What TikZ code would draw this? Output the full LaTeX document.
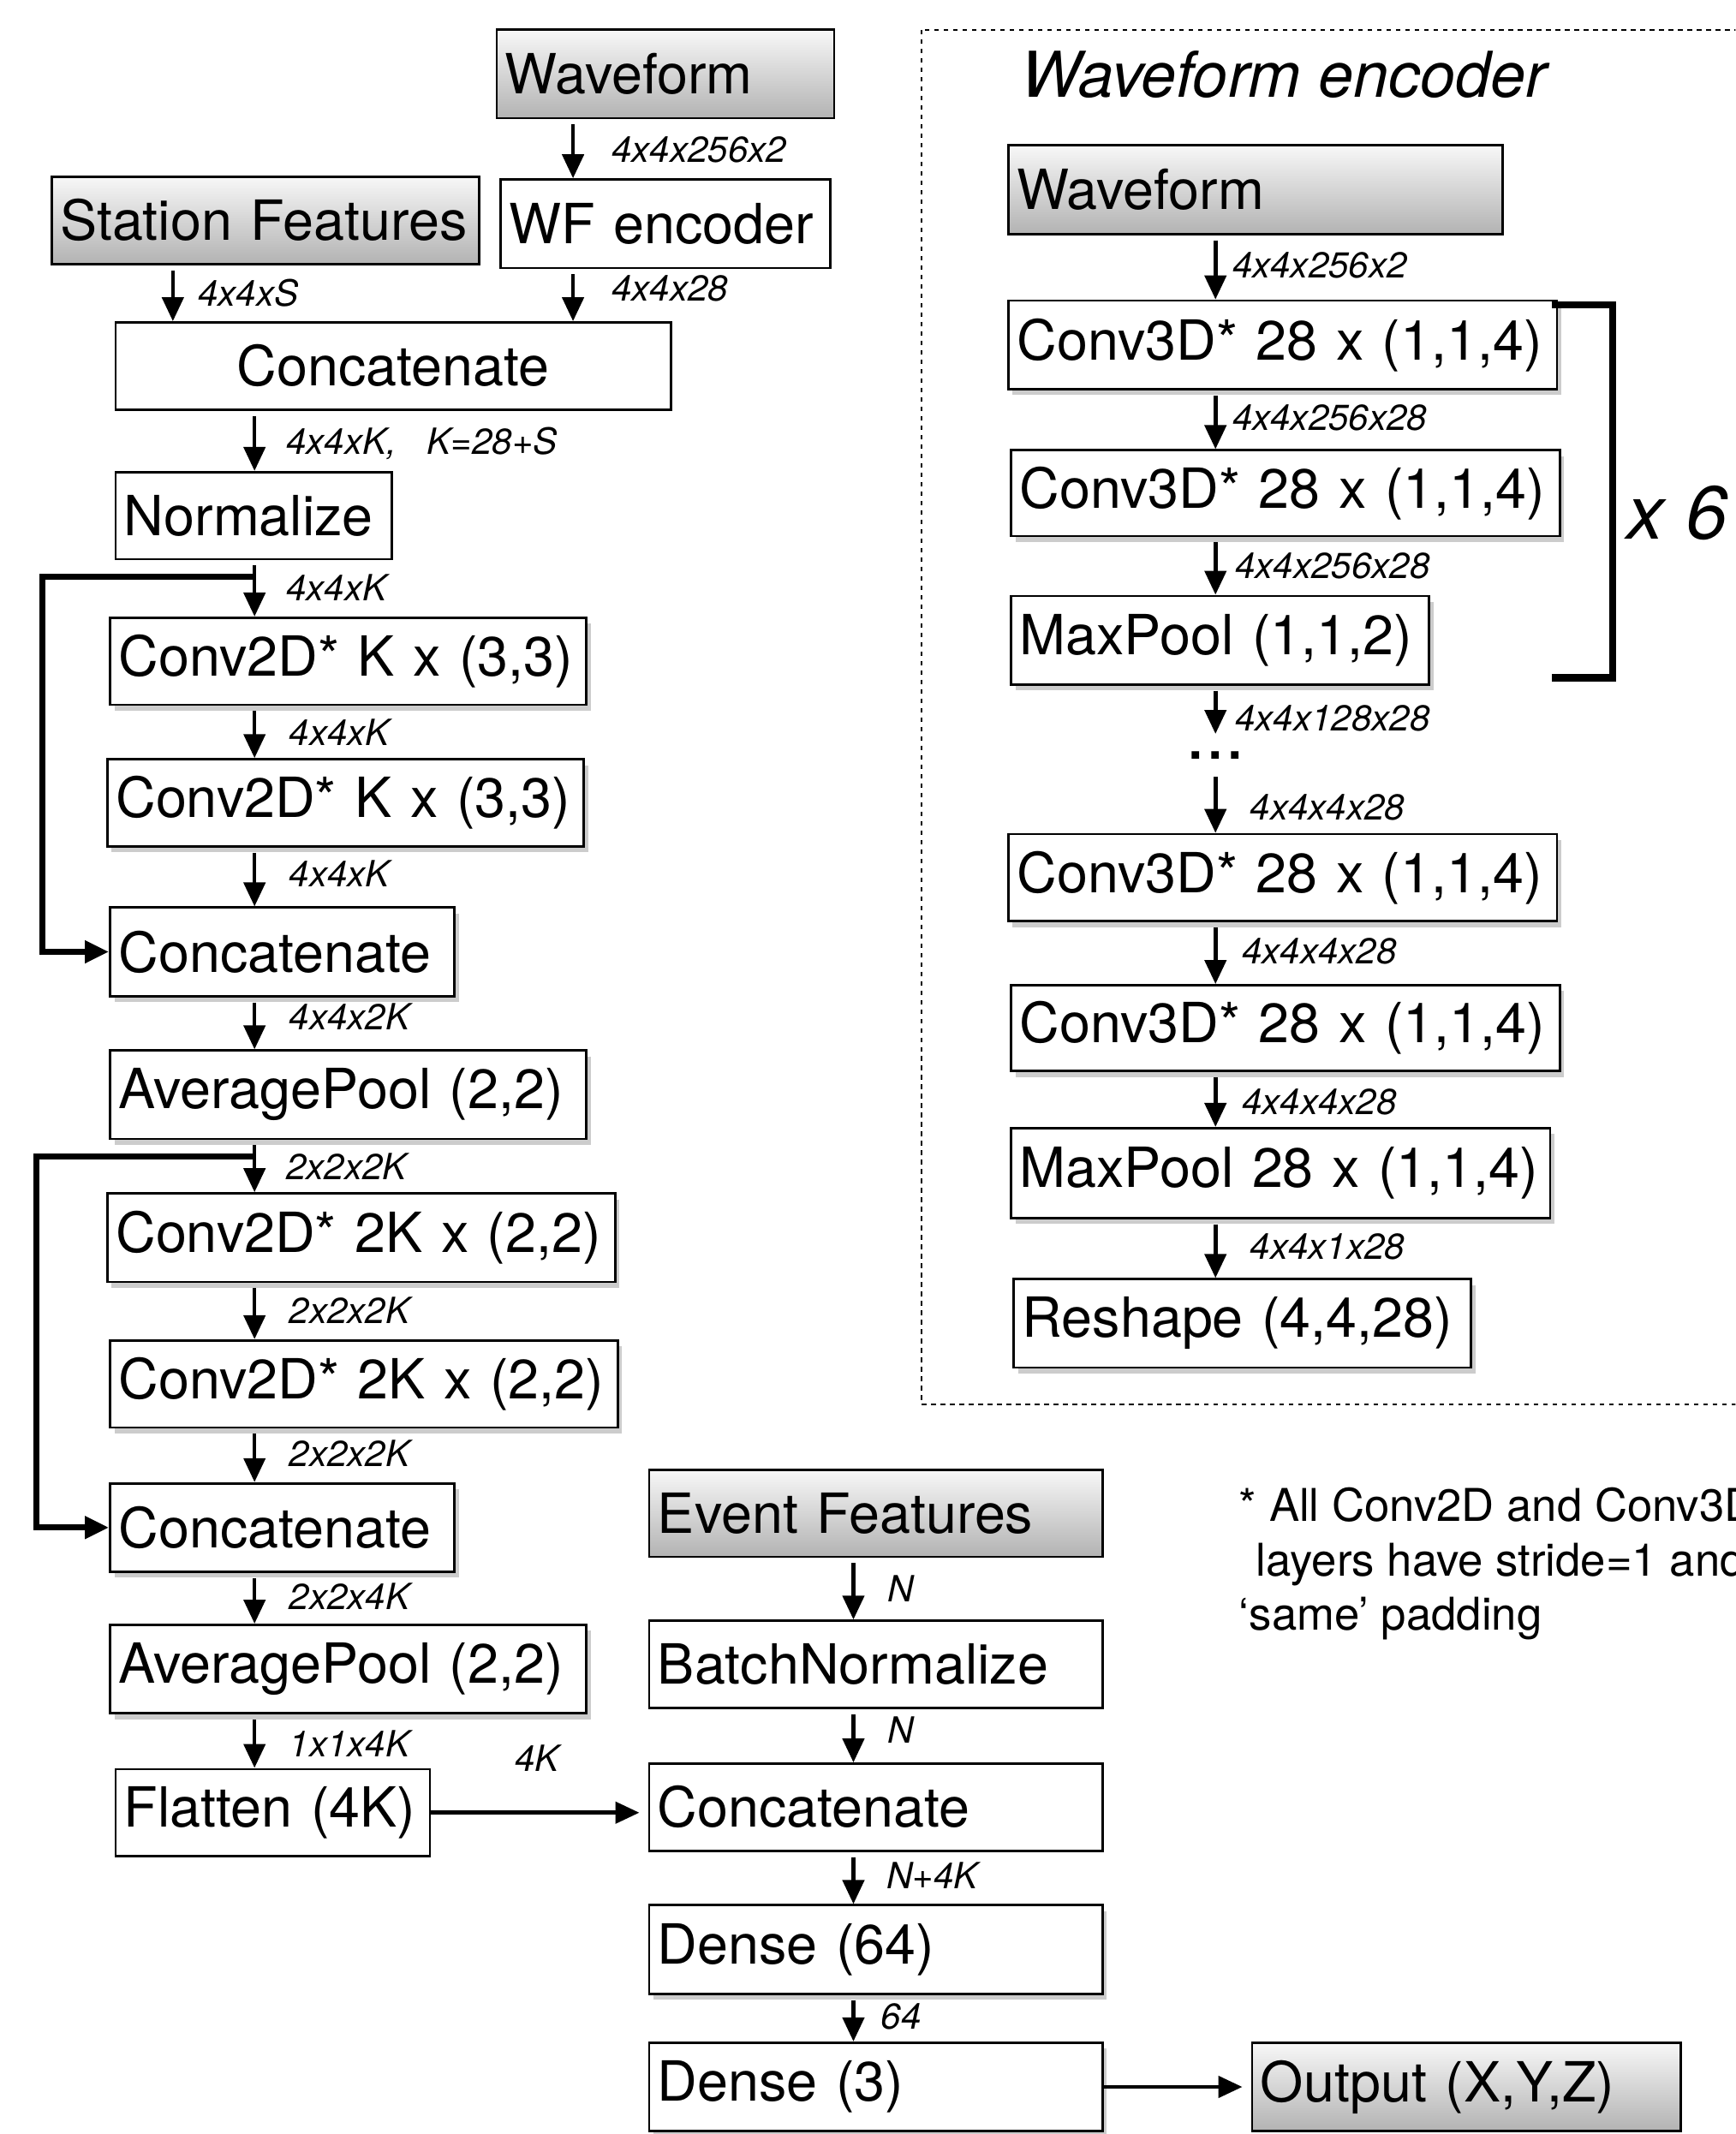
\documentclass[tikz,border=0pt]{standalone}
\usepackage{fontspec}
\setmainfont{TeX Gyre Heros}
\usetikzlibrary{arrows.meta,calc,shadows}
\newcommand\boxfont{\fontsize{18.4}{22}\selectfont}
\newcommand\lblfont{\fontsize{12}{14}\selectfont\itshape}
\tikzset{
  >={Triangle[length=2.8mm,width=2.5mm]},
  box/.style={draw=black, line width=0.8pt, fill=white, font=\boxfont, align=left,
    inner xsep=1mm, inner ysep=0pt, anchor=north west},
  inbox/.style={box, top color=black!3, bottom color=black!30},
  shbox/.style={box, drop shadow={shadow xshift=0.5mm, shadow yshift=-0.7mm,
    opacity=0.25, fill=black!80}},
  wh/.style 2 args={text width=#1*0.159mm-2mm, minimum height=#2*0.159mm},
  arr/.style={->, line width=1.3pt, shorten <=0.6mm},
  skip/.style={->, line width=2pt},
  brk/.style={line width=2.3pt},
  frame/.style={draw=black, line width=0.7pt, dash pattern=on 0.55mm off 0.55mm},
  lbl/.style={font=\lblfont, anchor=west, inner sep=0pt},
}

\begin{document}
\begin{tikzpicture}[x=0.159mm, y=-0.159mm]
  \path[use as bounding box, clip] (0,0) rectangle (1275,1568);
  % arrow columns
  \coordinate (cs) at (127,0);
  \coordinate (cw) at (421,0);
  \coordinate (cl) at (187,0);
  \coordinate (cm) at (627,0);
  \coordinate (cr) at (893,0);

  % ======================= station / waveform branch =======================
  \node[inbox, wh={248}{65}] (wfin) at (364,21) {Waveform};
  \node[inbox, wh={314}{64}] (stat) at (37,129) {Station~Features};
  \node[box, wh={242}{65}] (wfenc) at (367,131) {WF~encoder};
  \node[box, wh={408}{64}, align=center] (cat0) at (84,236) {Concatenate};
  \node[box, wh={203}{64}] (norm) at (84,346) {Normalize};
  \node[shbox, wh={350}{64}] (convA) at (80,453) {Conv2D*~K~x~(3,3)};
  \node[shbox, wh={350}{64}] (convB) at (78,557) {Conv2D*~K~x~(3,3)};
  \node[shbox, wh={253}{65}] (catA) at (80,666) {Concatenate};
  \node[shbox, wh={350}{65}] (poolA) at (80,771) {AveragePool~(2,2)};
  \node[shbox, wh={373}{65}] (convC) at (78,876) {Conv2D*~2K~x~(2,2)};
  \node[shbox, wh={373}{64}] (convD) at (80,984) {Conv2D*~2K~x~(2,2)};
  \node[shbox, wh={253}{65}] (catB) at (80,1089) {Concatenate};
  \node[shbox, wh={350}{65}] (poolB) at (80,1193) {AveragePool~(2,2)};
  \node[box, wh={231}{64}] (flat) at (84,1299) {Flatten~(4K)};

  \draw[arr] (wfin.south -| cw) -- (wfenc.north -| cw);
  \draw[arr] (stat.south -| cs) -- (cat0.north -| cs);
  \draw[arr] (wfenc.south -| cw) -- (cat0.north -| cw);
  \draw[arr] (cat0.south -| cl) -- (norm.north -| cl);
  \draw[arr] (norm.south -| cl) -- (convA.north -| cl);
  \draw[arr] (convA.south -| cl) -- (convB.north -| cl);
  \draw[arr] (convB.south -| cl) -- (catA.north -| cl);
  \draw[arr] (catA.south -| cl) -- (poolA.north -| cl);
  \draw[arr] (poolA.south -| cl) -- (convC.north -| cl);
  \draw[arr] (convC.south -| cl) -- (convD.north -| cl);
  \draw[arr] (convD.south -| cl) -- (catB.north -| cl);
  \draw[arr] (catB.south -| cl) -- (poolB.north -| cl);
  \draw[arr] (poolB.south -| cl) -- (flat.north -| cl);
  % residual links
  \draw[skip] ($(norm.south -| cl)+(0,12)$) -- ++(-156,0) |- (catA.west);
  \draw[skip] ($(poolA.south -| cl)+(0,12)$) -- ++(-160,0) |- (catB.west);

  \node[lbl] at (449,110) {4x4x256x2};
  \node[lbl] at (145,215) {4x4xS};
  \node[lbl] at (449,212) {4x4x28};
  \node[lbl] at (210,326) {4x4xK,\ \ \ K=28+S};
  \node[lbl] at (210,432) {4x4xK};
  \node[lbl] at (212,538) {4x4xK};
  \node[lbl] at (212,642) {4x4xK};
  \node[lbl] at (212,747) {4x4x2K};
  \node[lbl] at (210,857) {2x2x2K};
  \node[lbl] at (212,963) {2x2x2K};
  \node[lbl] at (212,1068) {2x2x2K};
  \node[lbl] at (212,1173) {2x2x4K};
  \node[lbl] at (212,1281) {1x1x4K};

  % ======================= event branch / head =======================
  \node[inbox, wh={333}{64}] (evt) at (476,1079) {Event~Features};
  \node[box, wh={333}{64}] (bn) at (476,1190) {BatchNormalize};
  \node[box, wh={333}{64}] (catC) at (476,1295) {Concatenate};
  \node[shbox, wh={333}{65}] (dns1) at (476,1399) {Dense~(64)};
  \node[shbox, wh={333}{65}] (dns2) at (476,1500) {Dense~(3)};
  \node[inbox, wh={315}{65}] (outp) at (919,1500) {Output~(X,Y,Z)};

  \draw[arr] (evt.south -| cm) -- (bn.north -| cm);
  \draw[arr] (bn.south -| cm) -- (catC.north -| cm);
  \draw[arr] (catC.south -| cm) -- (dns1.north -| cm);
  \draw[arr] (dns1.south -| cm) -- (dns2.north -| cm);
  \draw[arr, shorten <=0pt, shorten >=1mm] (flat.east) -- (flat.east -| catC.west);
  \draw[arr, shorten <=0pt, shorten >=1mm] (dns2.east) -- (outp.west);

  \node[lbl] at (378,1292) {4K};
  \node[lbl] at (652,1167) {N};
  \node[lbl] at (652,1271) {N};
  \node[lbl] at (651,1378) {N+4K};
  \node[lbl] at (647,1482) {64};

  \node[anchor=west, inner sep=0pt, align=left, font=\fontsize{15}{18.2}\selectfont]
    (note) at (910,1149) {* All Conv2D and Conv3D\\
    \hspace*{2mm}layers have stride=1 and\\
    ‘same’ padding};

  % ======================= waveform encoder =======================
  \draw[frame] (677,22) rectangle (1320,1032);
  \node[anchor=west, inner sep=0pt, font=\fontsize{21}{24}\selectfont\itshape]
    (enctitle) at (750,55) {Waveform encoder};
  \node[inbox, wh={363}{65}] (ewf) at (740,106) {Waveform};
  \node[shbox, wh={403}{65}] (e1) at (740,220) {Conv3D*~28~x~(1,1,4)};
  \node[shbox, wh={403}{63}] (e2) at (742,330) {Conv3D*~28~x~(1,1,4)};
  \node[shbox, wh={307}{65}] (e3) at (742,437) {MaxPool~(1,1,2)};
  \node[inner sep=0pt, font=\fontsize{24}{24}\selectfont] (dots) at (893,555) {...};
  \node[shbox, wh={403}{64}] (e4) at (740,612) {Conv3D*~28~x~(1,1,4)};
  \node[shbox, wh={403}{63}] (e5) at (742,723) {Conv3D*~28~x~(1,1,4)};
  \node[shbox, wh={396}{66}] (e6) at (742,828) {MaxPool~28~x~(1,1,4)};
  \node[shbox, wh={336}{65}] (e7) at (744,939) {Reshape~(4,4,28)};

  \draw[arr] (ewf.south -| cr) -- (e1.north -| cr);
  \draw[arr] (e1.south -| cr) -- (e2.north -| cr);
  \draw[arr] (e2.south -| cr) -- (e3.north -| cr);
  \draw[arr, shorten >=2mm] (e3.south -| cr) -- (dots.north);
  \draw[arr, shorten <=2mm] (dots.south) -- (e4.north -| cr);
  \draw[arr] (e4.south -| cr) -- (e5.north -| cr);
  \draw[arr] (e5.south -| cr) -- (e6.north -| cr);
  \draw[arr] (e6.south -| cr) -- (e7.north -| cr);
  % repeat bracket
  \draw[brk] (1140,224) -| (1185,498) -- (1140,498);
  \node[anchor=west, inner sep=0pt, font=\fontsize{25}{28}\selectfont\itshape]
    (rep) at (1195,377) {x 6};

  \node[lbl] at (905,195) {4x4x256x2};
  \node[lbl] at (905,307) {4x4x256x28};
  \node[lbl] at (907,416) {4x4x256x28};
  \node[lbl] at (907,528) {4x4x128x28};
  \node[lbl] at (918,593) {4x4x4x28};
  \node[lbl] at (912,699) {4x4x4x28};
  \node[lbl] at (912,810) {4x4x4x28};
  \node[lbl] at (918,916) {4x4x1x28};
\end{tikzpicture}
\end{document}
